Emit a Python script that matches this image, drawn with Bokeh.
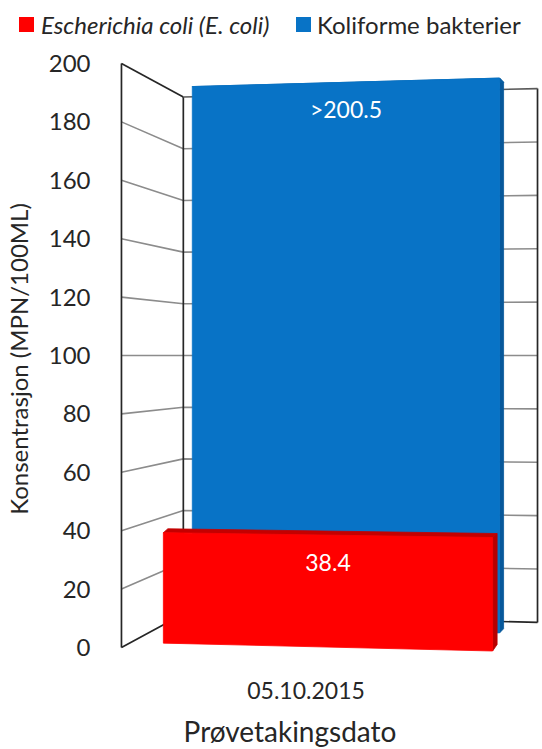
from bokeh.plotting import figure
from bokeh.layouts import column
from bokeh.models import Range1d, FixedTicker, Div
from bokeh.embed import file_html
from bokeh.resources import INLINE
from bokeh.core.properties import value

# ---------------- data ----------------
dates = ["05.10.2015"]
series_names = ["Escherichia coli (E. coli)", "Koliforme bakterier"]
ecoli = [38.4]
koliforme = [200.5]
label_prefix = ["", ">"]          # koliforme result is above the upper detection limit
y_ticks = [0, 20, 40, 60, 80, 100, 120, 140, 160, 180, 200]
x_title = "Prøvetakingsdato"
y_title = "Konsentrasjon (MPN/100ML)"

Y_MAX = y_ticks[-1]
FONT = "Lato"
TEXT_COLOR = "#262626"

# ---------------- pseudo-3D projection ----------------
# Depth is simulated by scaling values toward the eye-level value HORIZON.
# A ratio of 1.0 is the front plane that the value axis is drawn for.
HORIZON = 100.0


def proj(x, v, r):
    return x, HORIZON + r * (v - HORIZON)


# wall corners: (x position, depth ratio)
WALL_FRONT = (120, 1.0)
WALL_BACK_L = (182, 0.885)
WALL_BACK_R = (537, 0.914)

# bar blocks: front face x-extent and depth ratios, extrusion offset and colours
BAR_GEOM = [
    dict(x0=162, x1=492, r0=0.985, r1=1.012, dx=4.5, dr=0.978,
         front="#ff0000", top="#c40000", side="#b80000"),
    dict(x0=191, x1=499, r0=0.921, r1=0.950, dx=4.0, dr=0.985,
         front="#0873c6", top="#0a5fa3", side="#07589a"),
]
SERIES_COLORS = [g["front"] for g in BAR_GEOM]
CATEGORY_X = 305

# ---------------- legend strip ----------------
LEG_H = 37
leg_box_left = [19, 296]
leg_text_left = [41, 317]
parts = []
for i, name in enumerate(series_names):
    style = "italic" if i == 0 else "normal"
    parts.append(
        f'<div style="position:absolute;left:{leg_box_left[i]}px;top:17px;'
        f'width:15px;height:15px;background:{SERIES_COLORS[i]};"></div>'
        f'<div style="position:absolute;left:{leg_text_left[i]}px;top:24.5px;'
        f'transform:translateY(-50%);white-space:nowrap;line-height:1.2;'
        f'font-style:{style};">{name}</div>'
    )
legend_html = (
    f'<div style="position:relative;width:542px;height:{LEG_H}px;'
    f'font-family:{FONT};font-size:24px;color:{TEXT_COLOR};">'
    + "".join(parts) + "</div>"
)
legend_div = Div(text=legend_html, width=542, height=LEG_H, margin=0)

# ---------------- x-axis title strip ----------------
TITLE_H = 42
title_html = (
    f'<div style="position:relative;width:542px;height:{TITLE_H}px;'
    f'font-family:{FONT};font-size:28px;color:{TEXT_COLOR};">'
    f'<div style="position:absolute;left:290px;top:24px;'
    f'transform:translate(-50%,-50%);white-space:nowrap;line-height:1.0;">'
    f'{x_title}</div></div>'
)
title_div = Div(text=title_html, width=542, height=TITLE_H, margin=0)

# ---------------- main chart ----------------
# frame spans x 105..542, starts 20 px below the top and is 603 px tall;
# 200 -> 6 px below the frame top, 0 -> 590 px below it
p = figure(width=542, height=749 - LEG_H - TITLE_H, output_backend="svg",
           toolbar_location=None,
           x_range=Range1d(105, 542), y_range=Range1d(-4.45, 202.05),
           min_border_left=105, min_border_right=0, min_border_top=20,
           min_border_bottom=47)
p.outline_line_color = None
p.xgrid.visible = False
p.ygrid.visible = False

# value axis
p.yaxis.ticker = FixedTicker(ticks=y_ticks)
p.yaxis.axis_line_color = None
p.yaxis.major_tick_line_color = None
p.yaxis.minor_tick_line_color = None
p.yaxis.major_label_standoff = 10
p.yaxis.major_label_text_font = FONT
p.yaxis.major_label_text_font_size = "24px"
p.yaxis.major_label_text_color = TEXT_COLOR
p.yaxis.axis_label = y_title
p.yaxis.axis_label_text_font = FONT
p.yaxis.axis_label_text_font_size = "24px"
p.yaxis.axis_label_text_font_style = "normal"
p.yaxis.axis_label_text_color = TEXT_COLOR
p.yaxis.axis_label_standoff = 13

# category axis
p.xaxis.ticker = FixedTicker(ticks=[CATEGORY_X])
p.xaxis.major_label_overrides = {CATEGORY_X: dates[0]}
p.xaxis.axis_line_color = None
p.xaxis.major_tick_line_color = None
p.xaxis.minor_tick_line_color = None
p.xaxis.major_label_standoff = 15
p.xaxis.major_label_text_font = FONT
p.xaxis.major_label_text_font_size = "23px"
p.xaxis.major_label_text_color = TEXT_COLOR

# ---------------- walls ----------------
(fx, fr), (blx, blr), (brx, brr) = WALL_FRONT, WALL_BACK_L, WALL_BACK_R
grid_xs, grid_ys = [], []
for t in y_ticks[1:-1]:
    a, b, c = proj(fx, t, fr), proj(blx, t, blr), proj(brx, t, brr)
    grid_xs.append([a[0], b[0], c[0]])
    grid_ys.append([a[1], b[1], c[1]])
p.multi_line(grid_xs, grid_ys, line_color="#8c8c8c", line_width=1.6)

top_line = [proj(fx, Y_MAX, fr), proj(blx, Y_MAX, blr), proj(brx, Y_MAX, brr)]
bot_line = [proj(fx, 0, fr), proj(blx, 0, blr), proj(brx, 0, brr)]
edges = [
    [proj(fx, 0, fr), proj(fx, Y_MAX, fr)],
    [proj(blx, 0, blr), proj(blx, Y_MAX, blr)],
    [proj(brx, 0, brr), proj(brx, Y_MAX, brr)],
    top_line[:2],
    bot_line,
]
p.multi_line([[pt[0] for pt in e] for e in edges],
             [[pt[1] for pt in e] for e in edges],
             line_color="#262626", line_width=1.7)
p.line([pt[0] for pt in top_line[1:]], [pt[1] for pt in top_line[1:]],
       line_color="#5a5a5a", line_width=1.6)

# ---------------- bars ----------------
values = [ecoli[0], koliforme[0]]
draw_order = [1, 0]  # back row first
for i in draw_order:
    g = BAR_GEOM[i]
    h = min(values[i], Y_MAX)
    x0, x1, r0, r1, dx, dr = g["x0"], g["x1"], g["r0"], g["r1"], g["dx"], g["dr"]
    side = [proj(x1, 0, r1), proj(x1 + dx, 0, r1 * dr),
            proj(x1 + dx, h, r1 * dr), proj(x1, h, r1)]
    top = [proj(x0, h, r0), proj(x1, h, r1),
           proj(x1 + dx, h, r1 * dr), proj(x0 + dx, h, r0 * dr)]
    front = [proj(x0, 0, r0), proj(x1, 0, r1), proj(x1, h, r1), proj(x0, h, r0)]
    p.patches([[q[0] for q in side], [q[0] for q in top]],
              [[q[1] for q in side], [q[1] for q in top]],
              fill_color=[g["side"], g["top"]], line_color=[g["side"], g["top"]],
              line_width=0.8)
    p.patch([q[0] for q in front], [q[1] for q in front],
            fill_color=g["front"], line_color=g["front"], line_width=0.8)

    # value label just under the top edge
    cx = (x0 + x1) / 2
    _, ty = proj(cx, h, (r0 + r1) / 2)
    p.text(x=[cx], y=[ty], text=[f"{label_prefix[i]}{values[i]}"],
           text_align="center", text_baseline="middle", y_offset=27,
           text_color="white", text_font=value(FONT), text_font_size="23px")

layout = column(legend_div, p, title_div, spacing=0)
open("out.html", "w").write(file_html(layout, INLINE))
